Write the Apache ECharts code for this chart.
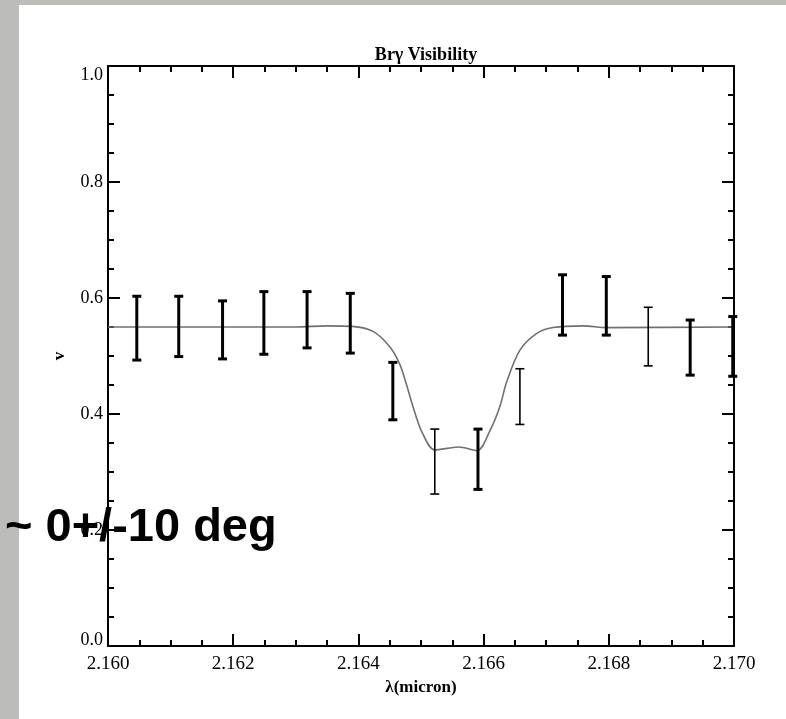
<!DOCTYPE html>
<html>
<head>
    <meta charset="utf-8">
    <title>Brγ Visibility</title>
    <style>
        html, body { margin: 0; padding: 0; background: #bcbcb8; }
        #chart { width: 786px; height: 719px; }
    </style>
</head>
<body>
<div id="chart"></div>
<script src="https://cdn.jsdelivr.net/npm/echarts@6/dist/echarts.min.js"></script>
<script>
    // measured points (wavelength in micron) and error bar ends
    var barX = [2.16046, 2.16113, 2.16183, 2.16249, 2.16318, 2.16387, 2.16455,
        2.16522, 2.16591, 2.16658, 2.16726, 2.16796, 2.16863, 2.16930, 2.16998];
    var barLow = [0.493, 0.499, 0.495, 0.503, 0.514, 0.505, 0.390,
        0.262, 0.270, 0.382, 0.536, 0.536, 0.483, 0.467, 0.465];
    var barHigh = [0.603, 0.603, 0.595, 0.611, 0.611, 0.608, 0.489,
        0.374, 0.374, 0.478, 0.640, 0.637, 0.584, 0.562, 0.568];
    // some bars are drawn thinner in the original
    var barWeight = [3, 3, 3, 3, 3, 3, 3, 1.6, 3, 1.6, 3, 3, 1.6, 3, 3];

    // model curve
    var modelX = [2.1600, 2.1630, 2.1635, 2.1639, 2.16424, 2.16450, 2.16466, 2.16477,
        2.16488, 2.16501, 2.16522, 2.16560, 2.16590, 2.16610, 2.16626, 2.16637,
        2.16658, 2.16685, 2.16711, 2.16759, 2.16797, 2.1700];
    var modelV = [0.550, 0.550, 0.552, 0.551, 0.542, 0.516, 0.486, 0.450,
        0.410, 0.370, 0.338, 0.343, 0.337, 0.371, 0.413, 0.456,
        0.510, 0.539, 0.549, 0.552, 0.549, 0.550];

    var xTicks = [2.160, 2.170, 0.002];
    var yTicks = [0, 1, 0.2];

    var chart = echarts.init(document.getElementById('chart'));

    var barData = [];
    for (var i = 0; i < barX.length; i++) {
        barData.push([barX[i], barLow[i], barHigh[i], barWeight[i]]);
    }
    var modelData = [];
    for (var j = 0; j < modelX.length; j++) {
        modelData.push([modelX[j], modelV[j]]);
    }

    var serif = 'Liberation Serif';
    var tick = {show: true, inside: true, length: 12, lineStyle: {color: '#000', width: 2}};
    var minor = {show: true, splitNumber: 4, length: 6, lineStyle: {color: '#000', width: 2}};
    var line = {show: true, onZero: false, lineStyle: {color: '#000', width: 2}};

    function xAxis(pos, labels) {
        return {
            type: 'value', position: pos,
            min: xTicks[0], max: xTicks[1], interval: xTicks[2],
            axisLine: line, axisTick: tick, minorTick: minor,
            splitLine: {show: false},
            axisLabel: {
                show: labels, margin: 9, color: '#000', fontFamily: serif, fontSize: 19,
                showMinLabel: true, showMaxLabel: true,
                formatter: function (v) { return v.toFixed(3); }
            }
        };
    }

    function yAxis(pos, labels) {
        return {
            type: 'value', position: pos,
            min: yTicks[0], max: yTicks[1], interval: yTicks[2],
            axisLine: line, axisTick: tick, minorTick: minor,
            splitLine: {show: false},
            axisLabel: {
                show: labels, margin: 5, color: '#000', fontFamily: serif, fontSize: 18,
                showMinLabel: true, showMaxLabel: true,
                // end labels sit inside the frame, like the original
                formatter: function (v) {
                    var s = v.toFixed(1);
                    if (v >= 1) return '{hi|' + s + '}';
                    if (v <= 0) return '{lo|' + s + '}';
                    return s;
                },
                rich: {
                    hi: {fontFamily: serif, fontSize: 18, color: '#000', padding: [18, 0, 0, 0]},
                    lo: {fontFamily: serif, fontSize: 18, color: '#000', padding: [0, 0, 12, 0]}
                }
            }
        };
    }

    var xa = xAxis('bottom', true);
    xa.name = 'λ(micron)';
    xa.nameLocation = 'middle';
    xa.nameGap = 32;
    xa.nameTextStyle = {color: '#000', fontFamily: serif, fontSize: 17, fontWeight: 'bold'};

    var ya = yAxis('left', true);
    ya.name = 'v';
    ya.nameLocation = 'middle';
    ya.nameGap = 40;
    ya.nameTextStyle = {color: '#000', fontFamily: serif, fontSize: 17, fontWeight: 'bold'};

    var option = {
        animation: false,
        backgroundColor: 'transparent',
        title: {
            text: 'Brγ Visibility',
            left: 421, textAlign: 'center', top: 41,
            textStyle: {color: '#000', fontFamily: serif, fontSize: 18, fontWeight: 'bold'}
        },
        grid: {left: 108, right: 52, top: 66, bottom: 73},
        xAxis: [xa, xAxis('top', false)],
        yAxis: [ya, yAxis('right', false)],
        graphic: [
            {
                type: 'rect', z: -10, silent: true,
                shape: {x: 19, y: 5, width: 767, height: 714},
                style: {fill: '#ffffff'}
            },
            {
                type: 'text', z: 100, left: 5, top: 505,
                style: {
                    text: '~ 0+/-10 deg', fill: '#000',
                    font: 'bold 47px "Liberation Sans"'
                }
            }
        ],
        series: [
            {
                type: 'line',
                data: modelData,
                smooth: 0.3,
                symbol: 'none',
                lineStyle: {color: '#707070', width: 1.6},
                z: 2
            },
            {
                type: 'custom',
                data: barData,
                z: 3,
                renderItem: function (params, api) {
                    var top = api.coord([api.value(0), api.value(2)]);
                    var bot = api.coord([api.value(0), api.value(1)]);
                    var w = api.value(3);
                    var hw = 4.5;
                    var st = {stroke: '#000', lineWidth: w};
                    return {
                        type: 'group',
                        children: [
                            {type: 'line', shape: {x1: top[0], y1: top[1], x2: bot[0], y2: bot[1]}, style: st},
                            {type: 'line', shape: {x1: top[0] - hw, y1: top[1], x2: top[0] + hw, y2: top[1]}, style: st},
                            {type: 'line', shape: {x1: bot[0] - hw, y1: bot[1], x2: bot[0] + hw, y2: bot[1]}, style: st}
                        ]
                    };
                }
            }
        ]
    };

    chart.setOption(option);
</script>
</body>
</html>
